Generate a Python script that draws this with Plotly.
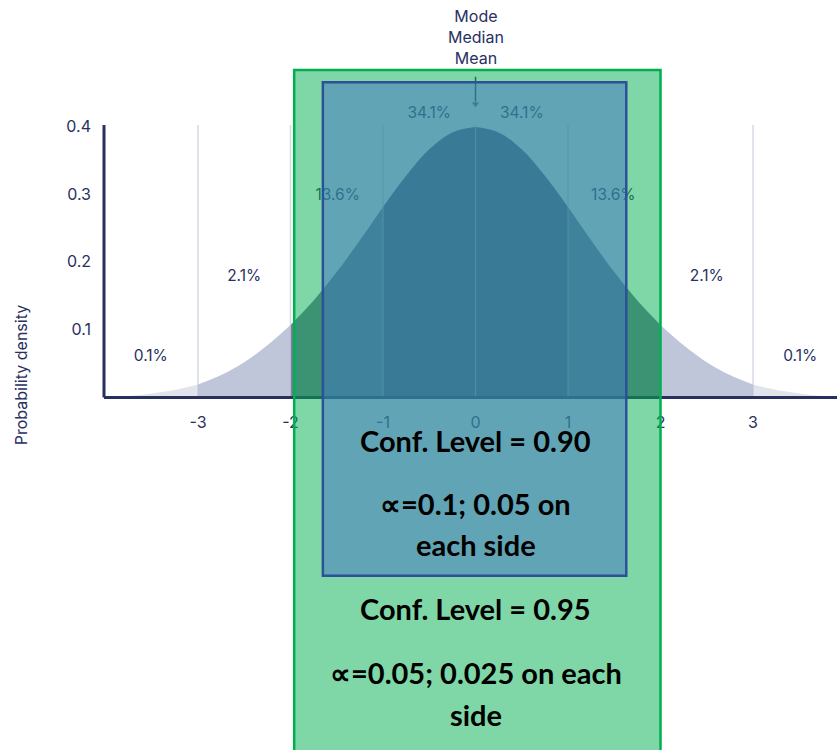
import plotly.graph_objects as go

# ---- data ----
curve_x = [-4.0, -3.75, -3.5, -3.25, -3.0, -2.75, -2.5, -2.25, -2.0, -1.75, -1.5, -1.25, -1.0, -0.75, -0.5, -0.25, 0.0,
           0.25, 0.5, 0.75, 1.0, 1.25, 1.5, 1.75, 2.0, 2.25, 2.5, 2.75, 3.0, 3.25, 3.5, 3.75, 4.0]
curve_y = [0.000, 0.002, 0.006, 0.011, 0.019, 0.033, 0.052, 0.077, 0.107, 0.143, 0.185, 0.232, 0.281, 0.327, 0.366, 0.391, 0.399,
           0.391, 0.366, 0.327, 0.281, 0.232, 0.185, 0.143, 0.107, 0.077, 0.052, 0.033, 0.019, 0.011, 0.006, 0.002, 0.000]

segment_edges = [-4.0, -3.0, -2.0, -1.0, 0.0, 1.0, 2.0, 3.0, 4.0]
segment_colors = ["#e2e4ec", "#c0c6da", "#777699", "#5c5882", "#5c5882", "#777699", "#c0c6da", "#e2e4ec"]

pct_labels = ["0.1%", "2.1%", "13.6%", "34.1%", "34.1%", "13.6%", "2.1%", "0.1%"]
pct_x = [-3.51, -2.5, -1.49, -0.5, 0.5, 1.49, 2.5, 3.51]
pct_y = [0.060, 0.178, 0.297, 0.418, 0.418, 0.297, 0.178, 0.060]

x_tickvals = [-3, -2, -1, 0, 1, 2, 3]
x_ticktext = ["-3", "-2", "-1", "0", "1", "2", "3"]
y_tickvals = [0.1, 0.2, 0.3, 0.4]
y_ticktext = ["0.1", "0.2", "0.3", "0.4"]
guide_top = 0.402

ci95 = [-1.96, 2.0]
ci90 = [-1.65, 1.63]
ci95_top = 0.483
ci90_top = 0.465
ci90_bottom = -0.263

box_texts = ["Conf. Level = 0.90", "\u221d=0.1; 0.05 on", "each side",
             "Conf. Level = 0.95", "\u221d=0.05; 0.025 on each", "side"]
box_text_y = [-0.064, -0.156, -0.217, -0.311, -0.406, -0.467]

arrow_y = [0.473, 0.433]
center_label = "Mode<br>Median<br>Mean"
center_label_y = 0.532

# ---- layout constants ----
W, H = 837, 750
xmin, xmax = -4.016, 3.908
ymin, ymax = -0.52, 0.5863
NAVY = "#29305f"
FONT = "Inter"

fig = go.Figure()

# filled segments under the curve
for i in range(len(segment_edges) - 1):
    a, b = segment_edges[i], segment_edges[i + 1]
    xs = [x for x in curve_x if a <= x <= b]
    ys = [y for x, y in zip(curve_x, curve_y) if a <= x <= b]
    fig.add_trace(go.Scatter(x=xs, y=ys, mode="lines", line=dict(width=0, shape="spline", smoothing=1.0),
                             fill="tozeroy", fillcolor=segment_colors[i], hoverinfo="skip", showlegend=False))

# vertical guide lines
gx, gy = [], []
for v in x_tickvals:
    gx += [v, v, None]
    gy += [0, guide_top, None]
fig.add_trace(go.Scatter(x=gx, y=gy, mode="lines", line=dict(color="rgba(188,193,212,0.6)", width=1.5),
                         hoverinfo="skip", showlegend=False))

# percentage labels
fig.add_trace(go.Scatter(x=pct_x, y=pct_y, mode="text", text=pct_labels,
                         textfont=dict(family=FONT, size=15.5, color=NAVY),
                         cliponaxis=False, hoverinfo="skip", showlegend=False))

# arrow to the peak
fig.add_trace(go.Scatter(x=[0, 0], y=arrow_y, mode="lines+markers",
                         line=dict(color=NAVY, width=1.5),
                         marker=dict(symbol="triangle-down", size=[0, 8], color=NAVY),
                         cliponaxis=False, hoverinfo="skip", showlegend=False))

shapes = [
    # y axis line
    dict(type="line", xref="x domain", yref="y", x0=0, x1=0, y0=0, y1=guide_top,
         line=dict(color=NAVY, width=3), layer="above"),
    # 95% box
    dict(type="rect", xref="x", yref="y", x0=ci95[0], x1=ci95[1], y0=ymin - 0.1, y1=ci95_top,
         fillcolor="rgba(0,176,80,0.5)", line=dict(color="#00b050", width=2.5), layer="above"),
    # 90% box
    dict(type="rect", xref="x", yref="y", x0=ci90[0], x1=ci90[1], y0=ci90_bottom, y1=ci90_top,
         fillcolor="rgba(68,114,196,0.5)", line=dict(color="#2f4f9a", width=2.5), layer="above"),
]

annotations = [dict(x=0, y=center_label_y, xref="x", yref="y", text=center_label, showarrow=False,
                    font=dict(family=FONT, size=16, color=NAVY))]
for t, yv in zip(box_texts, box_text_y):
    annotations.append(dict(x=0, y=yv, xref="x", yref="y", text=t, showarrow=False,
                            font=dict(family="Lato", size=29, color="black", weight="bold")))

fig.update_layout(
    width=W, height=H,
    margin=dict(l=0, r=0, t=0, b=0),
    paper_bgcolor="white", plot_bgcolor="white",
    template="none",
    showlegend=False,
    shapes=shapes,
    annotations=annotations,
    xaxis=dict(range=[xmin, xmax], domain=[104 / W, 1], anchor="free",
               position=(0 - ymin) / (ymax - ymin),
               showline=True, linecolor=NAVY, linewidth=3, showgrid=False, zeroline=False,
               ticks="", tickvals=x_tickvals, ticktext=x_ticktext, ticklabelstandoff=9,
               tickfont=dict(family=FONT, size=16, color=NAVY), automargin=False, fixedrange=True),
    yaxis=dict(range=[ymin, ymax], domain=[0, 1], anchor="x",
               showline=False, showgrid=False, zeroline=False,
               ticks="", tickvals=y_tickvals, ticktext=y_ticktext, ticklabelstandoff=12,
               tickfont=dict(family=FONT, size=16, color=NAVY),
               title=dict(text="Probability density", font=dict(family=FONT, size=16, color=NAVY), standoff=34),
               automargin=False, fixedrange=True),
)

fig.write_html("out.html", config={"displayModeBar": False},
               post_script="document.body.style.margin='0';document.body.style.padding='0';")
